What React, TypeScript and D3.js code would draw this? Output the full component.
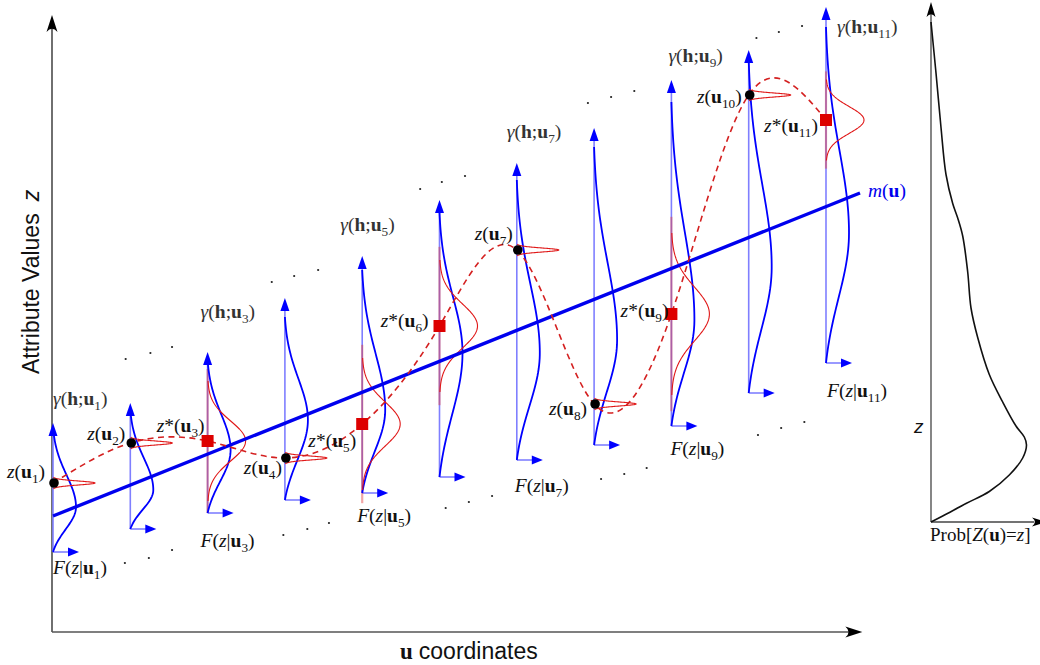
import React from "react";
import * as d3 from "d3";

// ---- Data -------------------------------------------------------------
// Locations u1..u11 along the coordinate axis
const locations = [1, 2, 3, 4, 5, 6, 7, 8, 9, 10, 11];
// Whether the value at a location is a measured datum or an estimate
const kinds = ["data", "data", "est", "data", "est", "est", "data", "data", "est", "data", "est"];
// Attribute value z(u) (measured) or z*(u) (estimated)
const values = [14.9, 18.9, 19.1, 17.4, 20.8, 30.6, 38.2, 22.8, 31.8, 53.7, 51.2];
// Spread of the local distribution around each value
const spreads = [0.2, 0.2, 2.0, 0.2, 2.2, 2.2, 0.2, 0.2, 2.7, 0.2, 1.35];

// Local conditional distribution F(z|u): axis extent, mode and upper end
const distBase = [8.0, 10.3, 11.9, 13.2, 13.9, 15.5, 17.2, 18.7, 20.6, 23.9, 26.9];
const distTop = [20.9, 22.9, 28.0, 33.4, 37.6, 43.2, 46.9, 50.4, 55.2, 58.2, 62.5];
const distMode = [12.5, 14.2, 18.2, 21.2, 22.2, 27.9, 27.9, 29.2, 31.2, 36.5, 39.9];
const distEnd = [20.5, 22.2, 27.2, 31.5, 36.2, 41.9, 45.2, 48.5, 53.0, 57.2, 60.5];

// Trend m(u): start and end of the straight line
const trendU = [1, 11.44];
const trendZ = [11.6, 43.9];

// Dotted envelopes (u, z)
const upperDotsU = [1.94, 2.26, 2.54, 3.83, 4.12, 4.43, 5.75, 6.03, 6.33, 7.92, 8.22, 8.52, 10.1, 10.39, 10.69];
const upperDotsZ = [27.3, 27.9, 28.5, 35.0, 35.6, 36.2, 44.3, 45.0, 45.6, 52.9, 53.5, 54.1, 59.4, 60.0, 60.6];
const lowerDotsU = [1.93, 2.24, 2.54, 3.98, 4.29, 4.57, 6.08, 6.38, 6.68, 8.09, 8.39, 8.68, 10.12, 10.42, 10.72];
const lowerDotsZ = [6.9, 7.4, 8.2, 9.7, 10.3, 10.9, 12.4, 13.0, 13.6, 15.3, 15.8, 16.4, 19.7, 20.4, 21.0];

// Marginal distribution Prob[Z(u)=z]
const margZ = [100, 89.8, 78.9, 69.5, 63.7, 60.8, 57.2, 50.0, 42.8, 36.9, 29.5, 24.0, 19.2, 17.0, 15.4, 12.8, 9.4, 6.1, 3.7, 1.2, 0];
const margP = [0, 0.05, 0.1, 0.15, 0.217, 0.267, 0.317, 0.367, 0.4, 0.467, 0.583, 0.717, 0.85, 0.933, 0.955, 0.917, 0.783, 0.583, 0.35, 0.117, 0];

// Which columns carry the gamma / F labels
const labelledColumns = [1, 3, 5, 7, 9, 11];

// ---- Label placement (pixel offsets from their anchors) ---------------
const gammaOffset: Record<number, [number, number]> = {
  1: [0, -18], 3: [-7, -34], 5: [-22, -25], 7: [-10, -25], 9: [-3, -18], 11: [11, 26],
};
const fOffset: Record<number, [number, number]> = {
  1: [0, 22], 3: [-7, 34], 5: [-5, 29], 7: [-2, 32], 9: [-1, 29], 11: [1, 34],
};
const zOffset: Record<number, [number, number]> = {
  1: [-8, -5], 2: [-5, -3], 3: [-3, -9], 4: [-3, 16], 5: [-6, 23], 6: [-11, 1],
  7: [-4, -10], 8: [-7, 11], 9: [-3, 3], 10: [-7, 8], 11: [-8, 12],
};

const SERIF = "'Liberation Serif','Times New Roman',serif";
const SANS = "'Liberation Sans',Arial,sans-serif";

type Part = { t: string; s?: "i" | "b"; sub?: boolean };

function MathText({ x, y, parts, anchor = "start", fill = "#111", size = 19.5 }:
  { x: number; y: number; parts: Part[]; anchor?: string; fill?: string; size?: number }) {
  let shifted = false;
  const spans = parts.map((p, k) => {
    let dy = 0;
    if (p.sub && !shifted) { dy = 5; shifted = true; }
    else if (!p.sub && shifted) { dy = -5; shifted = false; }
    return (
      <tspan key={k} dy={dy || undefined}
        fontStyle={p.s === "i" ? "italic" : undefined}
        fontWeight={p.s === "b" ? "bold" : undefined}
        fontSize={p.sub ? size * 0.68 : undefined}>{p.t}</tspan>
    );
  });
  return (
    <text x={x} y={y} fontFamily={SERIF} fontSize={size} textAnchor={anchor} fill={fill}>{spans}</text>
  );
}

const gammaParts = (i: number): Part[] => [
  { t: "γ", s: "i" }, { t: "(" }, { t: "h", s: "b" }, { t: ";" }, { t: "u", s: "b" }, { t: String(i), sub: true }, { t: ")" },
];
const fParts = (i: number): Part[] => [
  { t: "F", s: "i" }, { t: "(" }, { t: "z", s: "i" }, { t: "|" }, { t: "u", s: "b" }, { t: String(i), sub: true }, { t: ")" },
];
const zParts = (i: number, star: boolean): Part[] => [
  { t: "z", s: "i" }, ...(star ? [{ t: "*" } as Part] : []), { t: "(" }, { t: "u", s: "b" }, { t: String(i), sub: true }, { t: ")" },
];

export default function App() {
  const uScale = d3.scaleLinear().domain([1, 11]).range([53, 826]);
  const zScale = d3.scaleLinear().domain([0, 62]).range([632, 12]);
  const mzScale = d3.scaleLinear().domain([0, 100]).range([522, 22]);
  const mpScale = d3.scaleLinear().domain([0, 1]).range([931, 1031]);

  const pdfWidth = 23;
  const estWidth = 38;
  const spikeWidth = 42;

  const line = d3.line<[number, number]>().x((d) => d[0]).y((d) => d[1]);
  const smooth = d3.line<[number, number]>().x((d) => d[0]).y((d) => d[1]).curve(d3.curveCatmullRom.alpha(0.5));

  // Skewed local distribution drawn sideways along a column
  const localPdf = (i: number) => {
    const x0 = uScale(locations[i]);
    const base = distBase[i], mode = distMode[i], end = distEnd[i];
    const sL = (mode - base) / 2, sU = (end - mode) / 2.5;
    const eL = Math.exp(-2), eU = Math.exp(-3.125);
    const pts: [number, number][] = d3.range(0, 81).map((k) => {
      const z = base + ((end - base) * k) / 80;
      let f;
      if (z <= mode) {
        const g = Math.exp(-0.5 * ((z - mode) / sL) ** 2);
        f = (g - eL) / (1 - eL);
      } else {
        const g = Math.exp(-0.5 * ((z - mode) / sU) ** 2);
        f = (g - eU) / (1 - eU);
      }
      return [x0 + pdfWidth * Math.max(0, f), zScale(z)];
    });
    return line(pts) as string;
  };

  const gaussian = (i: number, width: number) => {
    const x0 = uScale(locations[i]);
    const m = values[i], s = spreads[i];
    const pts: [number, number][] = d3.range(0, 121).map((k) => {
      const t = -3 + (6 * k) / 120;
      return [x0 + width * Math.exp(-0.5 * t * t), zScale(m + t * s)];
    });
    return line(pts) as string;
  };

  const upHead = (x: number, tip: number, len: number, hw: number) =>
    `M${x},${tip} L${x - hw},${tip + len} L${x + hw},${tip + len} Z`;
  const rightHead = (tip: number, y: number, len: number, hw: number) =>
    `M${tip},${y} L${tip - len},${y - hw} L${tip - len},${y + hw} Z`;
  const upHeadConcave = (x: number, tip: number, len: number, hw: number) =>
    `M${x},${tip} L${x - hw},${tip + len} Q${x},${tip + len * 0.62} ${x + hw},${tip + len} Z`;
  const rightHeadConcave = (tip: number, y: number, len: number, hw: number) =>
    `M${tip},${y} L${tip - len},${y - hw} Q${tip - len * 0.62},${y} ${tip - len},${y + hw} Z`;

  const dashedPath = d3.line<number>()
    .x((_, k) => uScale(locations[k]))
    .y((v) => zScale(v))
    .curve(d3.curveNatural)(values) as string;

  const margPath = smooth(margZ.map((z, k) => [mpScale(margP[k]), mzScale(z)] as [number, number])) as string;

  const axisX = uScale(1) - 1;
  const axisY = zScale(0);
  const uEnd = uScale(11.47);
  const zEnd = zScale(61.7);

  return (
    <svg width={1040} height={665} style={{ position: "absolute", left: 0, top: 0, background: "#fff" }}>
      {/* main axes */}
      <line x1={axisX} y1={axisY} x2={axisX} y2={zEnd + 12} stroke="#333" strokeWidth={1.4} />
      <path d={upHeadConcave(axisX, zEnd, 17, 5.5)} fill="#000" />
      <line x1={axisX} y1={axisY} x2={uEnd - 12} y2={axisY} stroke="#555" strokeWidth={1.4} />
      <path d={rightHeadConcave(uEnd, axisY, 17, 5.5)} fill="#000" />

      {/* dotted envelopes */}
      {upperDotsU.map((u, k) => (
        <circle key={"ud" + k} cx={uScale(u)} cy={zScale(upperDotsZ[k])} r={1.1} fill="#222" />
      ))}
      {lowerDotsU.map((u, k) => (
        <circle key={"ld" + k} cx={uScale(u)} cy={zScale(lowerDotsZ[k])} r={1.1} fill="#222" />
      ))}

      {/* column axes */}
      {locations.map((u, i) => {
        const x = uScale(u);
        const yb = zScale(distBase[i]);
        const yt = zScale(distTop[i]);
        return (
          <g key={"col" + i}>
            <line x1={x} y1={yb} x2={x} y2={yt + 10} stroke="#7f7fff" strokeWidth={1.6} />
            <path d={upHead(x, yt, 13, 4.5)} fill="#0000ff" />
            <line x1={x} y1={yb} x2={x + 16} y2={yb} stroke="#7f7fff" strokeWidth={1.6} />
            <path d={rightHead(x + 26, yb, 11, 4.5)} fill="#0000ff" />
          </g>
        );
      })}

      {/* uncertainty bands of estimates */}
      {locations.map((u, i) => kinds[i] === "est" ? (
        <line key={"band" + i} x1={uScale(u)} x2={uScale(u)}
          y1={zScale(values[i] - 3.6 * spreads[i])} y2={zScale(values[i] + 3.6 * spreads[i])}
          stroke="#e23a3a" strokeOpacity={0.45} strokeWidth={2.2} />
      ) : null)}

      {/* local distributions */}
      {locations.map((_, i) => (
        <path key={"pdf" + i} d={localPdf(i)} fill="none" stroke="#0000ff" strokeWidth={1.8} />
      ))}

      {/* red local distributions */}
      {locations.map((_, i) => (
        <path key={"g" + i} d={gaussian(i, kinds[i] === "est" ? estWidth : spikeWidth)} fill="none"
          stroke="#e01818" strokeWidth={1.1} />
      ))}

      {/* trend m(u) */}
      <line x1={uScale(trendU[0])} y1={zScale(trendZ[0])} x2={uScale(trendU[1])} y2={zScale(trendZ[1])}
        stroke="#0000ee" strokeWidth={3.4} />

      {/* interpolated profile */}
      <path d={dashedPath} fill="none" stroke="#d42020" strokeWidth={1.6} strokeDasharray="6 4.5" />

      {/* data and estimates */}
      {locations.map((u, i) => kinds[i] === "data" ? (
        <circle key={"pt" + i} cx={uScale(u) + 1} cy={zScale(values[i])} r={4.8} fill="#000" />
      ) : (
        <rect key={"pt" + i} x={uScale(u) - 6} y={zScale(values[i]) - 6} width={12} height={12} fill="#dd0000" />
      ))}

      {/* labels */}
      {labelledColumns.map((c) => {
        const i = c - 1;
        const x = uScale(locations[i]);
        const [gx, gy] = gammaOffset[c];
        const [fx, fy] = fOffset[c];
        return (
          <g key={"lab" + c}>
            <MathText x={x + gx} y={zScale(distTop[i]) + gy} parts={gammaParts(c)} fill="#333" />
            <MathText x={x + fx} y={zScale(distBase[i]) + fy} parts={fParts(c)} />
          </g>
        );
      })}
      {locations.map((u, i) => {
        const [dx, dy] = zOffset[u];
        return (
          <MathText key={"zl" + i} x={uScale(u) + dx} y={zScale(values[i]) + dy}
            parts={zParts(u, kinds[i] === "est")} anchor="end" />
        );
      })}

      <MathText x={uScale(trendU[1]) + 8} y={zScale(trendZ[1]) + 4}
        parts={[{ t: "m", s: "i" }, { t: "(" }, { t: "u", s: "b" }, { t: ")" }]} fill="#0000ee" />

      {/* axis titles */}
      <text transform={`translate(39,374) rotate(-90)`} fontFamily={SANS} fontSize={23} fill="#111">
        Attribute Values<tspan dx={12} fontStyle="italic">z</tspan>
      </text>
      <text x={400} y={659} fontSize={23} fill="#111">
        <tspan fontFamily={SERIF} fontWeight="bold">u</tspan>
        <tspan fontFamily={SANS} dx={6}>coordinates</tspan>
      </text>

      {/* marginal distribution panel */}
      <line x1={mpScale(0)} y1={mzScale(0)} x2={mpScale(0)} y2={14} stroke="#444" strokeWidth={1.3} />
      <path d={upHeadConcave(mpScale(0), 2, 15, 4.5)} fill="#000" />
      <line x1={mpScale(0)} y1={mzScale(0)} x2={1034} y2={mzScale(0)} stroke="#444" strokeWidth={1.3} />
      <path d={rightHeadConcave(1047, mzScale(0), 15, 4.5)} fill="#000" />
      <path d={margPath} fill="none" stroke="#111" strokeWidth={1.6} />
      <text x={914} y={433} fontFamily={SANS} fontStyle="italic" fontSize={19} fill="#111">z</text>
      <MathText x={930} y={541} size={19}
        parts={[{ t: "Prob[" }, { t: "Z", s: "i" }, { t: "(" }, { t: "u", s: "b" }, { t: ")=" }, { t: "z", s: "i" }, { t: "]" }]} />
    </svg>
  );
}
